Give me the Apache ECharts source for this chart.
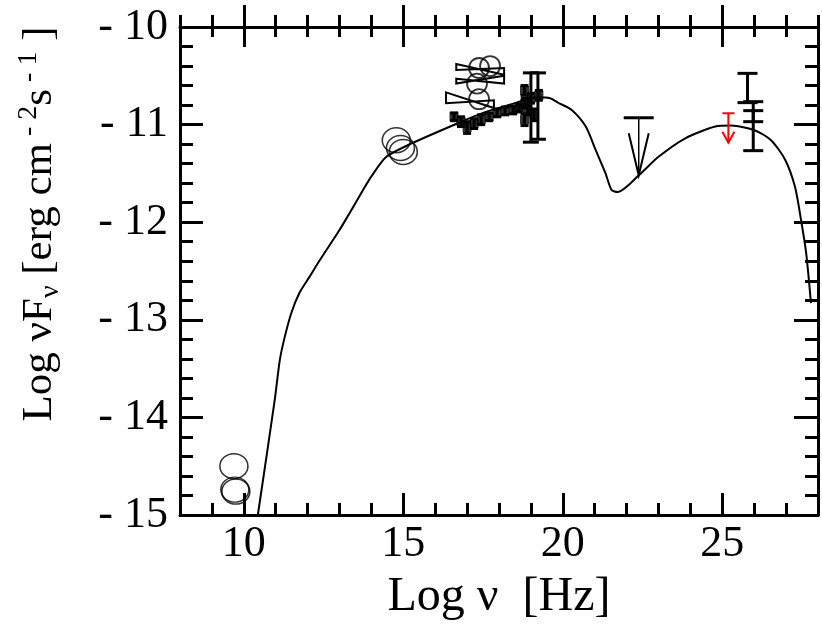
<!DOCTYPE html>
<html><head><meta charset="utf-8">
<script src="https://cdn.jsdelivr.net/npm/echarts@6/dist/echarts.min.js"></script>
<style>html,body{margin:0;padding:0;background:#fff}#c{width:822px;height:628px}</style>
</head><body><div id="c"></div>
<script>
// ---- data ----
const xTickMajor = [10, 15, 20, 25];
const modelX = [10.44, 10.97, 11.13, 11.28, 11.5, 11.75, 12.06, 12.38, 13.0, 13.31, 13.72, 14.0, 14.47, 15.28, 16.75, 17.5, 18.5, 19.2, 19.6, 19.88, 20.28, 20.72, 21.03, 21.34, 21.53, 21.72, 22.38, 23.0, 23.84, 24.78, 25.28, 26.03, 26.53, 26.97, 27.28, 27.47, 27.63, 27.78];
const modelY = [-15.0, -13.82, -13.41, -13.18, -12.92, -12.72, -12.56, -12.39, -12.08, -11.91, -11.68, -11.53, -11.33, -11.19, -10.98, -10.88, -10.78, -10.72, -10.73, -10.78, -10.85, -11.02, -11.26, -11.50, -11.67, -11.69, -11.52, -11.33, -11.14, -11.02, -11.01, -11.06, -11.16, -11.36, -11.64, -11.98, -12.32, -12.83];
// large open circles (radio / optical)
const bigCircX = [9.69, 9.72, 9.75, 14.78, 14.91, 15.0];
const bigCircY = [-14.50, -14.74, -14.76, -11.16, -11.24, -11.28];
// smaller open circles (X-ray)
const smCircX = [17.375, 17.72, 17.31, 17.375];
const smCircY = [-10.42, -10.40, -10.58, -10.74];
// X-ray filled squares with small error bars
const xrX = [16.59, 16.81, 17.0, 17.22, 17.44, 17.69, 17.94, 18.19, 18.44, 18.63, 18.81, 19.0, 19.25, 18.8, 18.8, 18.9, 19.1];
const xrY = [-10.92, -10.97, -11.03, -10.99, -10.95, -10.92, -10.88, -10.86, -10.85, -10.83, -10.78, -10.73, -10.70, -10.65, -10.95, -10.85, -10.9];
const xrErr = [0.04, 0.05, 0.06, 0.05, 0.05, 0.04, 0.04, 0.04, 0.04, 0.04, 0.05, 0.05, 0.05, 0.05, 0.06, 0.05, 0.06];
// X-ray large error bars
const xBarX = [19.0, 19.22];
const xBarLo = [-11.18, -11.15];
const xBarHi = [-10.47, -10.47];
// X-ray bowties: [xLeft, xRight, yLeftTop, yLeftBottom, yRightTop, yRightBottom]
const bowL = [16.66, 16.66, 16.34];
const bowR = [18.16, 18.16, 17.84];
const bowLt = [-10.38, -10.53, -10.67];
const bowLb = [-10.44, -10.58, -10.78];
const bowRt = [-10.42, -10.50, -10.75];
const bowRb = [-10.49, -10.58, -10.83];
// gamma-ray error bars
const gBarX = [25.79, 25.97, 25.97];
const gBarLo = [-10.775, -11.267, -10.97];
const gBarHi = [-10.475, -10.765, -10.857];
// upper limits [x, cap, tip]
const ulBlackX = [22.38], ulBlackCap = [-10.93], ulBlackTip = [-11.52];
const ulRedX = [25.19], ulRedCap = [-10.884], ulRedTip = [-11.185];

// ---- helpers ----
const FONT = 'Liberation Serif';
const zip = (a, b) => a.map((v, i) => [v, b[i]]);
function errBars(capHalf, lw, color) {
  return function (params, api) {
    const x = api.value(0), lo = api.value(1), hi = api.value(2);
    const a = api.coord([x, lo]), b = api.coord([x, hi]);
    const st = { stroke: color, lineWidth: lw };
    return { type: 'group', children: [
      { type: 'line', shape: { x1: a[0], y1: a[1], x2: b[0], y2: b[1] }, style: st },
      { type: 'line', shape: { x1: a[0] - capHalf, y1: a[1], x2: a[0] + capHalf, y2: a[1] }, style: st },
      { type: 'line', shape: { x1: b[0] - capHalf, y1: b[1], x2: b[0] + capHalf, y2: b[1] }, style: st }
    ]};
  };
}
function upperLim(capHalf, headHalf, headH, color, capW, stemW, headW) {
  return function (params, api) {
    const x = api.value(0), cap = api.value(1), tip = api.value(2);
    const a = api.coord([x, cap]), b = api.coord([x, tip]);
    return { type: 'group', children: [
      { type: 'line', shape: { x1: a[0] - capHalf, y1: a[1], x2: a[0] + capHalf, y2: a[1] }, style: { stroke: color, lineWidth: capW } },
      { type: 'line', shape: { x1: a[0], y1: a[1], x2: b[0], y2: b[1] }, style: { stroke: color, lineWidth: stemW } },
      { type: 'polyline', shape: { points: [[b[0] - headHalf, b[1] - headH], [b[0], b[1]], [b[0] + headHalf, b[1] - headH]] }, style: { stroke: color, lineWidth: headW, fill: null } }
    ]};
  };
}
function bowtie(params, api) {
  const xl = api.value(0), xr = api.value(1);
  const p1 = api.coord([xl, api.value(2)]), p2 = api.coord([xl, api.value(3)]);
  const p3 = api.coord([xr, api.value(4)]), p4 = api.coord([xr, api.value(5)]);
  return { type: 'polygon', shape: { points: [p1, p4, p3, p2] }, style: { stroke: '#000', lineWidth: 2, fill: null } };
}

const baseX = { type: 'value', min: 8, max: 28, splitLine: { show: false } };
const axLine = { show: true, lineStyle: { color: '#000', width: 3 } };
const noLine = { show: false };
const noLabel = { show: false };
const tk = (len, inside, custom) => {
  const o = { show: true, inside: inside, length: len, lineStyle: { color: '#000', width: 3 } };
  if (custom) o.customValues = custom;
  return o;
};

const option = {
  animation: false,
  backgroundColor: '#fff',
  grid: { left: 180, right: 4, top: 27, bottom: 113, containLabel: false },
  xAxis: [
    Object.assign({}, baseX, { position: 'bottom', interval: 1, axisLine: axLine, axisTick: tk(12, true),
      axisLabel: { customValues: xTickMajor, fontFamily: FONT, fontSize: 44, color: '#000', margin: 7 },
      name: 'Log ν  [Hz]', nameLocation: 'middle', nameGap: 58,
      nameTextStyle: { fontFamily: FONT, fontSize: 48, color: '#000' } }),
    Object.assign({}, baseX, { position: 'bottom', axisLine: noLine, axisTick: tk(22, true, xTickMajor), axisLabel: noLabel }),
    Object.assign({}, baseX, { position: 'top', interval: 1, axisLine: axLine, axisTick: tk(10, true), axisLabel: noLabel }),
    Object.assign({}, baseX, { position: 'top', interval: 1, axisLine: noLine, axisTick: tk(12, false), axisLabel: noLabel }),
    Object.assign({}, baseX, { position: 'top', axisLine: noLine, axisTick: tk(20, true, xTickMajor), axisLabel: noLabel }),
    Object.assign({}, baseX, { position: 'top', axisLine: noLine, axisTick: tk(22, false, xTickMajor), axisLabel: noLabel })
  ],
  yAxis: [
    { type: 'value', min: -15, max: -10, interval: 1, position: 'left', splitLine: { show: false },
      axisLine: axLine, axisTick: tk(23, true),
      minorTick: { show: true, splitNumber: 5, length: 13, lineStyle: { color: '#000', width: 3 } },
      minorSplitLine: { show: false },
      axisLabel: { fontFamily: FONT, fontSize: 44, color: '#000', margin: 12, formatter: v => '- ' + Math.abs(v) } },
    { type: 'value', min: -15, max: -10, interval: 1, position: 'right', splitLine: { show: false },
      axisLine: axLine, axisTick: tk(24, true),
      minorTick: { show: true, splitNumber: 5, length: 13, lineStyle: { color: '#000', width: 3 } },
      minorSplitLine: { show: false }, axisLabel: noLabel }
  ],
  graphic: [{
    type: 'text', x: 40, y: 224, rotation: Math.PI / 2,
    style: {
      text: '{a|Log νF}{s|ν}{a| [erg cm}{p| - 2}{a|s}{p| - 1}{a| ]}',
      align: 'center', verticalAlign: 'middle', fill: '#000',
      rich: {
        a: { fontFamily: FONT, fontSize: 43, lineHeight: 50, verticalAlign: 'middle', fill: '#000' },
        s: { fontFamily: FONT, fontSize: 28, lineHeight: 50, verticalAlign: 'bottom', fill: '#000' },
        p: { fontFamily: FONT, fontSize: 28, lineHeight: 50, verticalAlign: 'top', fill: '#000' }
      }
    }
  }],
  series: [
    { type: 'line', name: 'model', data: zip(modelX, modelY), symbol: 'none', smooth: 0.25,
      lineStyle: { color: '#000', width: 2 }, z: 2 },
    { type: 'scatter', data: zip(bigCircX, bigCircY), symbol: 'circle', symbolSize: [28, 25],
      itemStyle: { color: 'rgba(0,0,0,0)', borderColor: '#000', borderWidth: 1.5 }, z: 3 },
    { type: 'scatter', data: zip(smCircX, smCircY), symbol: 'circle', symbolSize: 20,
      itemStyle: { color: 'rgba(0,0,0,0)', borderColor: '#000', borderWidth: 1.8 }, z: 3 },
    { type: 'custom', data: bowL.map((v, i) => [v, bowR[i], bowLt[i], bowLb[i], bowRt[i], bowRb[i]]),
      renderItem: bowtie, z: 3 },
    { type: 'custom', data: xrX.map((v, i) => [v, xrY[i] - xrErr[i], xrY[i] + xrErr[i]]),
      renderItem: errBars(4, 3, '#000'), z: 4 },
    { type: 'scatter', data: zip(xrX, xrY), symbol: 'rect', symbolSize: 9,
      itemStyle: { color: '#000' }, z: 4 },
    { type: 'custom', data: xBarX.map((v, i) => [v, xBarLo[i], xBarHi[i]]),
      renderItem: errBars(8, 3, '#000'), z: 4 },
    { type: 'custom', data: gBarX.map((v, i) => [v, gBarLo[i], gBarHi[i]]),
      renderItem: errBars(10, 3, '#000'), z: 4 },
    { type: 'custom', data: ulBlackX.map((v, i) => [v, ulBlackCap[i], ulBlackTip[i]]),
      renderItem: upperLim(15, 10, 42, '#000', 3, 1.5, 2), z: 4 },
    { type: 'custom', data: ulRedX.map((v, i) => [v, ulRedCap[i], ulRedTip[i]]),
      renderItem: upperLim(6, 6, 11, '#ff0000', 2, 2, 2), z: 4 }
  ]
};
const chart = echarts.init(document.getElementById('c'), null, { renderer: 'canvas' });
chart.setOption(option);
</script>
</body></html>
